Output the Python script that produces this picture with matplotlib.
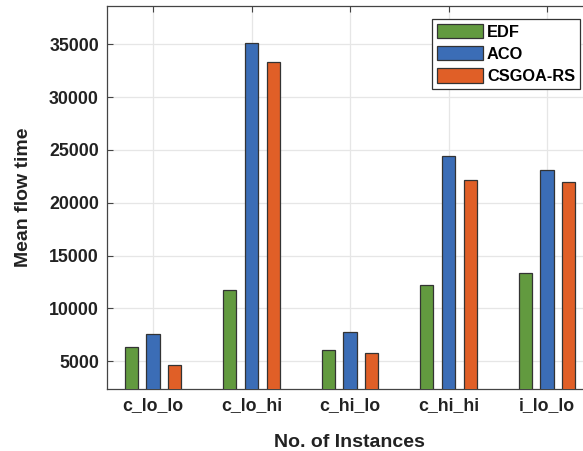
import matplotlib
matplotlib.use('Agg')
import matplotlib.pyplot as plt
import numpy as np

plt.rcParams['font.family'] = ['Liberation Sans', 'DejaVu Sans']
plt.rcParams['font.weight'] = 'bold'

# data
categories = ['c_lo_lo', 'c_lo_hi', 'c_hi_lo', 'c_hi_hi', 'i_lo_lo']
edf = [6320, 11790, 6110, 12200, 13330]
aco = [7560, 35160, 7750, 24390, 23130]
csgoa = [4660, 33360, 5800, 22180, 21930]

series = [('EDF', edf, '#629a3f'),
          ('ACO', aco, '#3b6db6'),
          ('CSGOA-RS', csgoa, '#e05f27')]


def main():
    fig = plt.figure(figsize=(5.83, 4.51), dpi=100)
    ax = fig.add_axes([107.3 / 583, 62 / 451, (592 - 107.3) / 583, 383 / 451])

    x = np.arange(1, len(categories) + 1)
    offsets = [-0.22, 0.0, 0.22]
    for (name, vals, col), off in zip(series, offsets):
        ax.bar(x + off, vals, width=0.133, color=col, edgecolor='#333333',
               linewidth=0.9, label=name, zorder=3)

    ax.set_xlim(0.536, 0.536 + (592 - 107.3) / 98.5)
    ax.set_ylim(2380, 38620)
    ax.set_xticks(x)
    ax.set_xticklabels(categories, fontsize=12.8, fontweight='bold')
    ax.set_yticks([5000, 10000, 15000, 20000, 25000, 30000, 35000])
    ax.tick_params(axis='y', labelsize=12.8)
    ax.tick_params(direction='in', top=True, right=True, length=4,
                   color='#444444', pad=6)
    for lbl in ax.get_yticklabels():
        lbl.set_fontweight('bold')
        lbl.set_color('#222222')
    for lbl in ax.get_xticklabels():
        lbl.set_color('#222222')

    ax.grid(True, color='#e6e6e6', linewidth=0.9, zorder=0)
    ax.set_axisbelow(True)
    for sp in ax.spines.values():
        sp.set_color('#444444')
        sp.set_linewidth(0.9)

    ax.set_xlabel('No. of Instances', fontsize=14, fontweight='bold',
                  color='#222222', labelpad=14)
    ax.set_ylabel('Mean flow time', fontsize=14, fontweight='bold',
                  color='#222222', labelpad=12)

    leg = ax.legend(loc='upper right', bbox_to_anchor=(580 / 583, 432 / 451),
                    bbox_transform=fig.transFigure, fontsize=11.8,
                    handlelength=2.8, handleheight=0.95, handletextpad=0.25,
                    labelspacing=0.4, borderpad=0.3, borderaxespad=0,
                    fancybox=False, framealpha=1, edgecolor='#333333')
    leg.get_frame().set_linewidth(0.9)
    for t in leg.get_texts():
        t.set_fontweight('bold')

    fig.savefig('out.png', dpi=100)


if __name__ == '__main__':
    main()
